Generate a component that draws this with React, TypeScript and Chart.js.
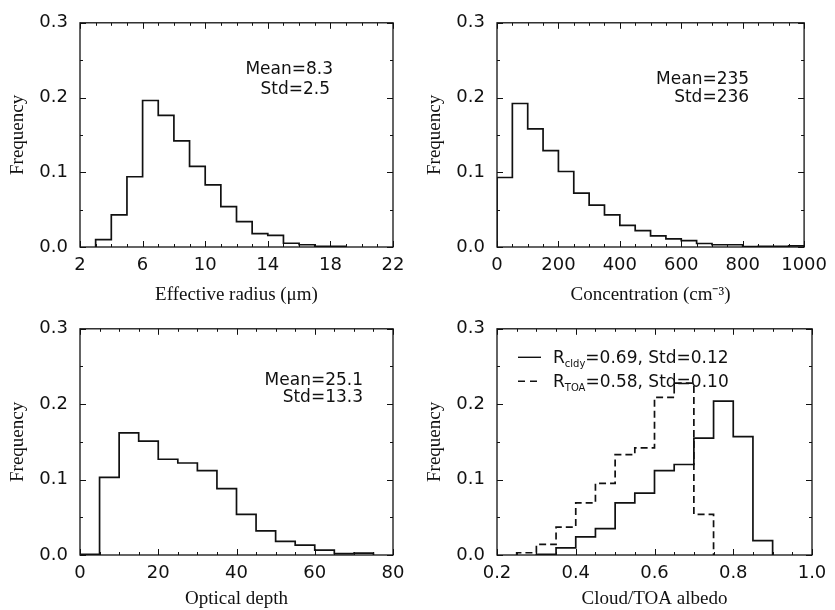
import React, { useEffect, useRef } from "react";
import { Chart, registerables } from "chart.js";

Chart.register(...registerables);

// ---------- data ----------
const yTicks = [0, 0.1, 0.2, 0.3];

// Panel 1: effective radius (µm)
const radiusEdges = [3, 4, 5, 6, 7, 8, 9, 10, 11, 12, 13, 14, 15, 16, 17, 18, 19];
const radiusFreq = [0.010, 0.043, 0.094, 0.196, 0.176, 0.142, 0.108, 0.083, 0.054, 0.034, 0.018, 0.0155, 0.005, 0.003, 0.001, 0.001];
const radiusTicks = [2, 6, 10, 14, 18, 22];

// Panel 2: concentration (cm^-3)
const concEdges = [0, 50, 100, 150, 200, 250, 300, 350, 400, 450, 500, 550, 600, 650, 700, 750, 800, 850, 900, 950, 1000];
const concFreq = [0.093, 0.192, 0.158, 0.129, 0.101, 0.072, 0.056, 0.043, 0.029, 0.022, 0.015, 0.011, 0.0086, 0.0047, 0.003, 0.003, 0.0005, 0.001, 0.001, 0.0015];
const concTicks = [0, 200, 400, 600, 800, 1000];

// Panel 3: optical depth
const tauEdges = [0, 5, 10, 15, 20, 25, 30, 35, 40, 45, 50, 55, 60, 65, 70, 75];
const tauFreq = [0.001, 0.103, 0.162, 0.151, 0.127, 0.122, 0.112, 0.088, 0.054, 0.032, 0.018, 0.013, 0.0065, 0.0017, 0.0026];
const tauTicks = [0, 20, 40, 60, 80];

// Panel 4: cloud / TOA albedo
const cldyEdges = [0.30, 0.35, 0.40, 0.45, 0.50, 0.55, 0.60, 0.65, 0.70, 0.75, 0.80, 0.85, 0.90];
const cldyFreq = [0.001, 0.0095, 0.024, 0.035, 0.069, 0.082, 0.112, 0.120, 0.155, 0.204, 0.157, 0.019];
const toaEdges = [0.25, 0.30, 0.35, 0.40, 0.45, 0.50, 0.55, 0.60, 0.65, 0.70, 0.75];
const toaFreq = [0.003, 0.014, 0.037, 0.069, 0.095, 0.133, 0.142, 0.209, 0.228, 0.054];
const albedoTicks = [0.2, 0.4, 0.6, 0.8, 1.0];

// ---------- helpers ----------
const INK = "#111111";
const SANS = '"DejaVu Sans", sans-serif';
const SERIF = '"Liberation Serif", "Times New Roman", serif';

function stepData(edges: number[], values: number[]) {
  const pts: { x: number; y: number }[] = [{ x: edges[0], y: 0 }];
  for (let i = 0; i < values.length; i++) pts.push({ x: edges[i], y: values[i] });
  pts.push({ x: edges[edges.length - 1], y: 0 });
  return pts;
}

const framePlugin = {
  id: "frame",
  afterDatasetsDraw(chart: any, _args: any, opts: any) {
    const { ctx, chartArea: a, scales } = chart;
    const xs = scales.x;
    const ys = scales.y;
    ctx.save();
    ctx.strokeStyle = INK;
    ctx.lineWidth = 1.3;
    ctx.strokeRect(a.left, a.top, a.right - a.left, a.bottom - a.top);

    ctx.lineWidth = 1;
    ctx.beginPath();
    const nx = Math.round((xs.max - xs.min) / opts.xMinor);
    for (let i = 0; i <= nx; i++) {
      const v = xs.min + i * opts.xMinor;
      const r = (v - xs.min) / opts.xMajor;
      const len = Math.abs(r - Math.round(r)) < 1e-6 ? 6 : 3;
      const px = Math.round(xs.getPixelForValue(v)) + 0.5;
      ctx.moveTo(px, a.bottom);
      ctx.lineTo(px, a.bottom - len);
      ctx.moveTo(px, a.top);
      ctx.lineTo(px, a.top + len);
    }
    const ny = Math.round((ys.max - ys.min) / 0.05);
    for (let i = 0; i <= ny; i++) {
      const v = ys.min + i * 0.05;
      const len = i % 2 === 0 ? 6 : 3;
      const py = Math.round(ys.getPixelForValue(v)) + 0.5;
      ctx.moveTo(a.left, py);
      ctx.lineTo(a.left + len, py);
      ctx.moveTo(a.right, py);
      ctx.lineTo(a.right - len, py);
    }
    ctx.stroke();

    ctx.fillStyle = INK;
    ctx.font = `17px ${SANS}`;
    ctx.textAlign = "right";
    ctx.textBaseline = "middle";
    for (const n of opts.notes || []) {
      ctx.fillText(n.text, a.right - n.dx, a.top + n.dy);
    }

    if (opts.legend) {
      for (const item of opts.legend) {
        const y = a.top + item.dy;
        ctx.beginPath();
        ctx.lineWidth = 1.4;
        ctx.setLineDash(item.dash || []);
        ctx.moveTo(a.left + 21, y + 0.5);
        ctx.lineTo(a.left + 44, y + 0.5);
        ctx.stroke();
        ctx.setLineDash([]);
        ctx.textAlign = "left";
        ctx.textBaseline = "alphabetic";
        let x = a.left + 56;
        const base = y + 6;
        ctx.font = `17px ${SANS}`;
        ctx.fillText("R", x, base);
        x += ctx.measureText("R").width;
        ctx.font = `10px ${SANS}`;
        ctx.fillText(item.sub, x, base + 4);
        x += ctx.measureText(item.sub).width;
        ctx.font = `17px ${SANS}`;
        ctx.fillText(item.rest, x, base);
      }
    }
    ctx.restore();
  },
};

type Series = { edges: number[]; values: number[]; dash?: number[] };

type PanelProps = {
  left: number;
  top: number;
  width: number;
  height: number;
  padTop: number;
  padRight: number;
  axisHeight: number;
  xMin: number;
  xMax: number;
  xTicks: number[];
  xMinor: number;
  xMajor: number;
  xDecimals: number;
  xTitle: string;
  series: Series[];
  notes?: { text: string; dx: number; dy: number }[];
  legend?: { sub: string; rest: string; dy: number; dash?: number[] }[];
};

function Panel(p: PanelProps) {
  const ref = useRef<HTMLCanvasElement | null>(null);
  useEffect(() => {
    if (!ref.current) return;
    const chart = new Chart(ref.current, {
      type: "line",
      data: {
        datasets: p.series.map((s) => ({
          data: stepData(s.edges, s.values),
          stepped: true,
          borderColor: INK,
          borderWidth: 1.7,
          borderDash: s.dash || [],
          pointRadius: 0,
          fill: false,
        })),
      },
      options: {
        animation: false,
        responsive: false,
        devicePixelRatio: 1,
        layout: { padding: { left: 0, top: p.padTop, right: p.padRight, bottom: 0 } },
        plugins: {
          legend: { display: false },
          tooltip: { enabled: false },
          frame: { xMinor: p.xMinor, xMajor: p.xMajor, notes: p.notes, legend: p.legend },
        } as any,
        scales: {
          x: {
            type: "linear",
            min: p.xMin,
            max: p.xMax,
            afterBuildTicks: (s: any) => {
              s.ticks = p.xTicks.map((v) => ({ value: v }));
            },
            afterFit: (s: any) => {
              s.height = p.axisHeight;
            },
            grid: { display: false, drawTicks: false },
            border: { display: false },
            ticks: {
              color: INK,
              font: { family: SANS, size: 18 },
              padding: 8,
              maxRotation: 0,
              autoSkip: false,
              callback: (v: any) => Number(v).toFixed(p.xDecimals),
            },
            title: {
              display: true,
              text: p.xTitle,
              color: INK,
              font: { family: SERIF, size: 19 },
              padding: { top: 0, bottom: 0 },
            },
          },
          y: {
            type: "linear",
            min: 0,
            max: 0.3,
            afterBuildTicks: (s: any) => {
              s.ticks = yTicks.map((v) => ({ value: v }));
            },
            afterFit: (s: any) => {
              s.width = 80;
            },
            grid: { display: false, drawTicks: false },
            border: { display: false },
            ticks: {
              color: INK,
              font: { family: SANS, size: 18 },
              padding: 12,
              callback: (v: any) => Number(v).toFixed(1),
            },
            title: {
              display: true,
              text: "Frequency",
              color: INK,
              font: { family: SERIF, size: 19 },
              padding: { top: 7, bottom: 0 },
            },
          },
        },
      },
      plugins: [framePlugin as any],
    });
    return () => chart.destroy();
  }, []);
  return (
    <canvas
      ref={ref}
      width={p.width}
      height={p.height}
      style={{ position: "absolute", left: p.left, top: p.top, width: p.width, height: p.height }}
    />
  );
}

export default function App() {
  return (
    <div style={{ position: "absolute", left: 0, top: 0, width: 835, height: 610, background: "#fff", overflow: "hidden" }}>
      <Panel
        left={0} top={0} width={417} height={306} padTop={15} padRight={24} axisHeight={59}
        xMin={2} xMax={22} xTicks={radiusTicks} xMinor={1} xMajor={4} xDecimals={0}
        xTitle="Effective radius (μm)"
        series={[{ edges: radiusEdges, values: radiusFreq }]}
        notes={[
          { text: "Mean=8.3", dx: 60, dy: 47 },
          { text: "Std=2.5", dx: 63, dy: 67 },
        ]}
      />
      <Panel
        left={417} top={0} width={418} height={306} padTop={15} padRight={23} axisHeight={59}
        xMin={0} xMax={1000} xTicks={concTicks} xMinor={50} xMajor={200} xDecimals={0}
        xTitle="Concentration (cm⁻³)"
        series={[{ edges: concEdges, values: concFreq }]}
        notes={[
          { text: "Mean=235", dx: 55, dy: 57 },
          { text: "Std=236", dx: 55, dy: 75 },
        ]}
      />
      <Panel
        left={0} top={306} width={417} height={304} padTop={19} padRight={24} axisHeight={55}
        xMin={0} xMax={80} xTicks={tauTicks} xMinor={5} xMajor={20} xDecimals={0}
        xTitle="Optical depth"
        series={[{ edges: tauEdges, values: tauFreq }]}
        notes={[
          { text: "Mean=25.1", dx: 30, dy: 52 },
          { text: "Std=13.3", dx: 30, dy: 69 },
        ]}
      />
      <Panel
        left={417} top={306} width={418} height={304} padTop={19} padRight={23} axisHeight={55}
        xMin={0.2} xMax={1.0} xTicks={albedoTicks} xMinor={0.05} xMajor={0.2} xDecimals={1}
        xTitle="Cloud/TOA albedo"
        series={[
          { edges: cldyEdges, values: cldyFreq },
          { edges: toaEdges, values: toaFreq, dash: [7, 4] },
        ]}
        legend={[
          { sub: "cldy", rest: "=0.69, Std=0.12", dy: 28 },
          { sub: "TOA", rest: "=0.58, Std=0.10", dy: 52, dash: [7, 5] },
        ]}
      />
    </div>
  );
}
